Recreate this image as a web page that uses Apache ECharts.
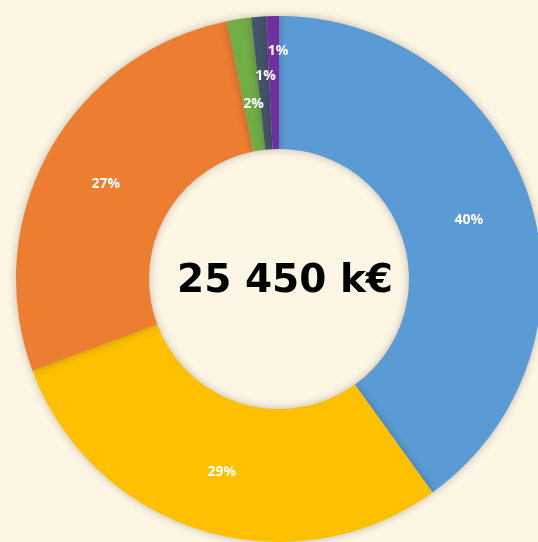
<!DOCTYPE html>
<html>
<head>
<meta charset="utf-8">
<script src="https://cdn.jsdelivr.net/npm/echarts@6/dist/echarts.min.js"></script>
<style>
  html, body { margin: 0; padding: 0; background: #fdf6e4; }
  #chart { width: 538px; height: 542px; }
</style>
</head>
<body>
<div id="chart"></div>
<script>
// slice values in k€ (read from the percentages), order = clockwise from top
const categories = ["A", "B", "C", "D", "E", "F"];
const values = [10200, 7450, 6990, 380, 230, 200];
const colors = ["#5b9bd5", "#ffc000", "#ed7d31", "#70ad47", "#44546a", "#7030a0"];
const totalLabel = "25 450 k€";

// Excel staggered the tiny labels, nudge them the same way
const labelNudge = [[0, 2], [1, 2], [1, 2], [5, 22], [2, -4], [4, -29]];

const container = document.getElementById("chart");
const chart = echarts.init(container);

chart.setOption({
  backgroundColor: "#fdf6e4",
  animation: false,
  graphic: [
    {
      type: "text",
      x: 285,
      y: 282,
      style: {
        text: totalLabel,
        align: "center",
        verticalAlign: "middle",
        fontFamily: "DejaVu Sans",
        fontWeight: "bold",
        fontSize: 39,
        fill: "#000"
      }
    }
  ],
  series: [
    {
      type: "pie",
      center: [279, 279],
      radius: [130, 263],
      startAngle: 90,
      percentPrecision: 0,
      itemStyle: {
        shadowBlur: 8,
        shadowColor: "rgba(0,0,0,0.25)"
      },
      label: {
        position: "inside",
        formatter: "{d}%",
        color: "#fff",
        fontFamily: "Open Sans",
        fontWeight: "bold",
        fontSize: 14
      },
      labelLayout(params) {
        const n = labelNudge[params.dataIndex];
        return { dx: n[0], dy: n[1] };
      },
      emphasis: { disabled: true },
      data: categories.map((name, i) => ({
        name,
        value: values[i],
        itemStyle: { color: colors[i] }
      }))
    }
  ]
});
</script>
</body>
</html>
